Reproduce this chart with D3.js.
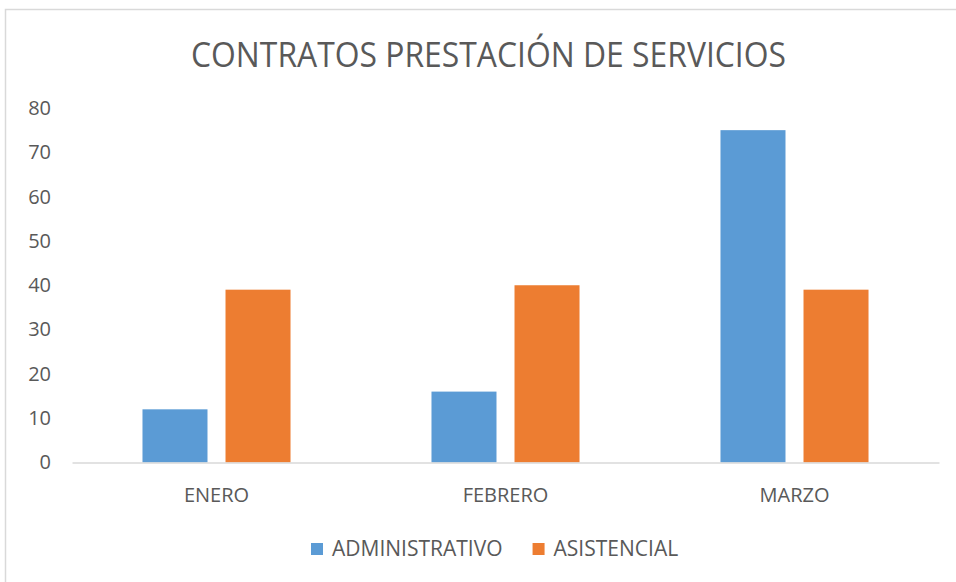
<!DOCTYPE html>
<html>
<head>
<meta charset="utf-8">
<script src="https://cdn.jsdelivr.net/npm/d3@7"></script>
<style>
  body { margin: 0; background: #fff; }
  svg { display: block; font-family: "Open Sans", sans-serif; }
</style>
</head>
<body>
<script>
// data
const meses = ["ENERO", "FEBRERO", "MARZO"];
const series = ["ADMINISTRATIVO", "ASISTENCIAL"];
const administrativo = [12, 16, 75];
const asistencial = [39, 40, 39];
const yTicks = [0, 10, 20, 30, 40, 50, 60, 70, 80];
const colores = ["#5B9BD5", "#ED7D31"];

const width = 956;
const height = 582;
const textColor = "#595959";

const svg = d3.select("body").append("svg")
  .attr("width", width)
  .attr("height", height);

svg.append("rect").attr("width", width).attr("height", height).attr("fill", "#fff");

// chart frame (only top and left edges visible in picture)
svg.append("rect")
  .attr("x", 5.5).attr("y", 9.5)
  .attr("width", 966).attr("height", 620)
  .attr("fill", "none")
  .attr("stroke", "#D9D9D9")
  .attr("stroke-width", 1.5);

// title
const title = svg.append("text")
  .attr("x", 488.5)
  .attr("y", 67)
  .attr("text-anchor", "middle")
  .attr("fill", textColor)
  .attr("font-size", 34)
  .text("CONTRATOS PRESTACIÓN DE SERVICIOS");
title.attr("textLength", 595).attr("lengthAdjust", "spacingAndGlyphs");

const plot = { left: 72, right: 939, top: 108, bottom: 462.5 };

const x0 = d3.scaleBand()
  .domain(meses)
  .range([plot.left, plot.right]);

const x1 = d3.scaleBand()
  .domain(series)
  .range([0, x0.bandwidth()])
  .paddingInner(0.217)
  .paddingOuter(0.849);

const y = d3.scaleLinear()
  .domain([0, 80])
  .range([plot.bottom, plot.top]);

// y axis labels
const yAxis = svg.append("g")
  .attr("transform", `translate(${plot.left},0)`)
  .call(d3.axisLeft(y).tickValues(yTicks).tickSize(0).tickPadding(21));
yAxis.select(".domain").remove();
yAxis.selectAll("text")
  .attr("fill", textColor)
  .attr("font-size", 20)
  .attr("font-family", "Open Sans, sans-serif");

// bars
const datos = meses.map((m, i) => ({ mes: m, valores: [administrativo[i], asistencial[i]] }));

const grupos = svg.selectAll(".grupo")
  .data(datos)
  .enter().append("g")
  .attr("class", "grupo")
  .attr("transform", d => `translate(${x0(d.mes)},0)`);

grupos.selectAll("rect")
  .data(d => d.valores.map((v, j) => ({ serie: series[j], valor: v, j: j })))
  .enter().append("rect")
  .attr("x", d => x1(d.serie))
  .attr("width", x1.bandwidth())
  .attr("y", d => y(d.valor))
  .attr("height", d => y(0) - y(d.valor))
  .attr("fill", d => colores[d.j]);

// x axis
const xAxis = svg.append("g")
  .attr("transform", `translate(0,${plot.bottom})`)
  .call(d3.axisBottom(x0).tickSize(0));
xAxis.select(".domain")
  .attr("stroke", "#D9D9D9")
  .attr("stroke-width", 1.5);
xAxis.selectAll("text")
  .attr("y", 39)
  .attr("dy", 0)
  .attr("fill", textColor)
  .attr("font-size", 20)
  .attr("font-family", "Open Sans, sans-serif");

// legend
const legend = svg.append("g");
let lx = 0;
series.forEach((s, i) => {
  const item = legend.append("g").attr("transform", `translate(${lx},0)`);
  item.append("rect")
    .attr("x", 0).attr("y", 543)
    .attr("width", 12).attr("height", 12)
    .attr("fill", colores[i]);
  const t = item.append("text")
    .attr("x", 21).attr("y", 556)
    .attr("fill", textColor)
    .attr("font-size", 21)
    .text(s);
  lx += 21 + t.node().getComputedTextLength() + 30;
});
legend.attr("transform", "translate(311,0)");
</script>
</body>
</html>
